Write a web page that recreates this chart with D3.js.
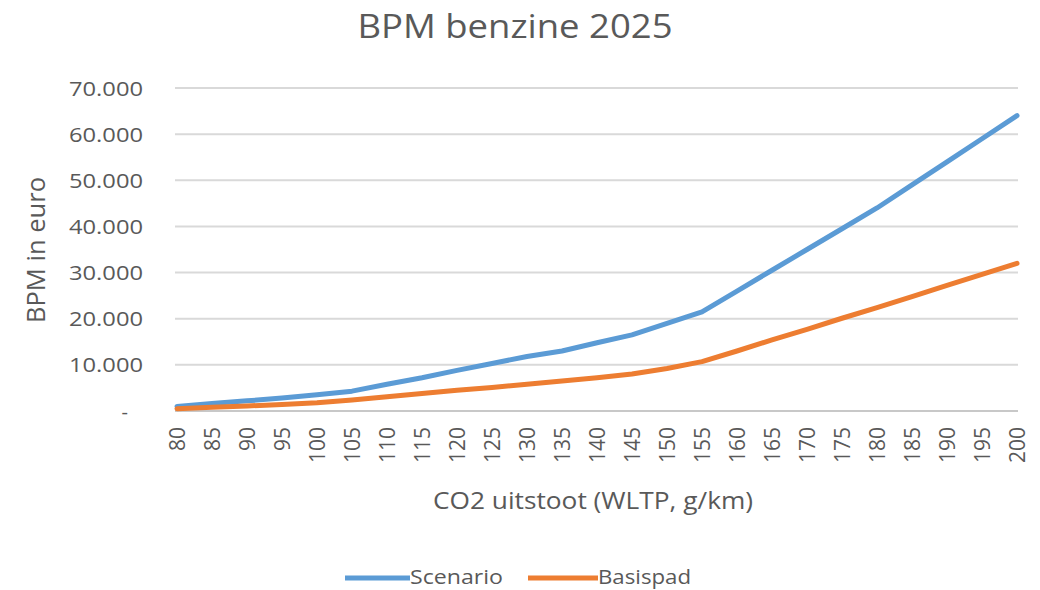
<!DOCTYPE html>
<html><head><meta charset="utf-8">
<script src="https://cdn.jsdelivr.net/npm/d3@7"></script>
<style>body{margin:0;background:#fff}svg{display:block}text{font-family:"Open Sans","Noto Sans",sans-serif;fill:#595959}</style>
</head><body><svg id="c" width="1040" height="590"></svg>
<script>
const categories = [80,85,90,95,100,105,110,115,120,125,130,135,140,145,150,155,160,165,170,175,180,185,190,195,200];
const scenario = [1000,1600,2200,2800,3500,4300,5800,7200,8800,10300,11800,13000,14800,16500,19000,21500,26000,30500,35000,39500,44000,49000,54000,59000,64000];
const basispad = [500,800,1100,1400,1800,2400,3100,3800,4500,5100,5800,6500,7200,8000,9200,10700,13000,15400,17700,20100,22400,24800,27200,29600,32000];
const yTicks = [0,10000,20000,30000,40000,50000,60000,70000];
const seriesNames = ["Scenario","Basispad"];
const colors = ["#5B9BD5","#ED7D31"];

const svg = d3.select("#c");
const x = d3.scalePoint().domain(categories).range([177,1017]);
const y = d3.scaleLinear().domain([0,70000]).range([411,88]);

// gridlines
svg.append("g").selectAll("line").data(yTicks).join("line")
  .attr("x1",175).attr("x2",1018).attr("y1",d=>y(d)).attr("y2",d=>y(d))
  .attr("stroke",d=>d===0?"#c8c8c8":"#d9d9d9").attr("stroke-width",2);

// y axis labels
const fmt = d => d===0 ? "-" : d3.format(",")(d).replace(/,/g,".");
const yAxis = d3.axisLeft(y).tickValues(yTicks).tickSize(0).tickPadding(0).tickFormat(fmt);
const gy = svg.append("g").attr("transform","translate(143,0)").call(yAxis);
gy.select(".domain").remove();
gy.selectAll("text").style("font-size","20px").style("fill","#595959").attr("dy","0.35em")
  .attr("dx",d=>d===0?-15:0)
  .each(function(d){ if(d!==0){ d3.select(this).attr("textLength",74).attr("lengthAdjust","spacingAndGlyphs"); } });

// x axis labels
const xAxis = d3.axisBottom(x).tickSize(0).tickPadding(0);
const gx = svg.append("g").attr("transform","translate(0,427)").call(xAxis);
gx.select(".domain").remove();
gx.selectAll("text").style("font-size","21px").style("fill","#595959")
  .attr("transform","rotate(-90)").attr("text-anchor","end").attr("x",0).attr("y",0).attr("dy","0.35em");

// lines
const line = d3.line().x((d,i)=>x(categories[i])).y(d=>y(d));
[scenario,basispad].forEach((s,k)=>{
  svg.append("path").datum(s).attr("d",line).attr("fill","none")
    .attr("stroke",colors[k]).attr("stroke-width",5).attr("stroke-linejoin","round").attr("stroke-linecap","round");
});

// title
svg.append("text").attr("x",515).attr("y",38).attr("text-anchor","middle").style("font-size","32px")
  .attr("textLength",315).attr("lengthAdjust","spacingAndGlyphs").text("BPM benzine 2025");
// axis titles
svg.append("text").attr("x",593).attr("y",509).attr("text-anchor","middle").style("font-size","23px")
  .attr("textLength",320).attr("lengthAdjust","spacingAndGlyphs").text("CO2 uitstoot (WLTP, g/km)");
svg.append("text").attr("transform","translate(45,250) rotate(-90)").attr("text-anchor","middle").style("font-size","25px")
  .attr("textLength",146).attr("lengthAdjust","spacingAndGlyphs").text("BPM in euro");

// legend
const leg = [{x1:345,x2:410,tx:410},{x1:528,x2:598,tx:598}];
leg.forEach((l,k)=>{
  svg.append("line").attr("x1",l.x1).attr("x2",l.x2).attr("y1",578).attr("y2",578).attr("stroke",colors[k]).attr("stroke-width",5);
  svg.append("text").attr("x",l.tx).attr("y",584).style("font-size","20px")
    .attr("textLength",93).attr("lengthAdjust","spacingAndGlyphs").text(seriesNames[k]);
});
</script></body></html>
